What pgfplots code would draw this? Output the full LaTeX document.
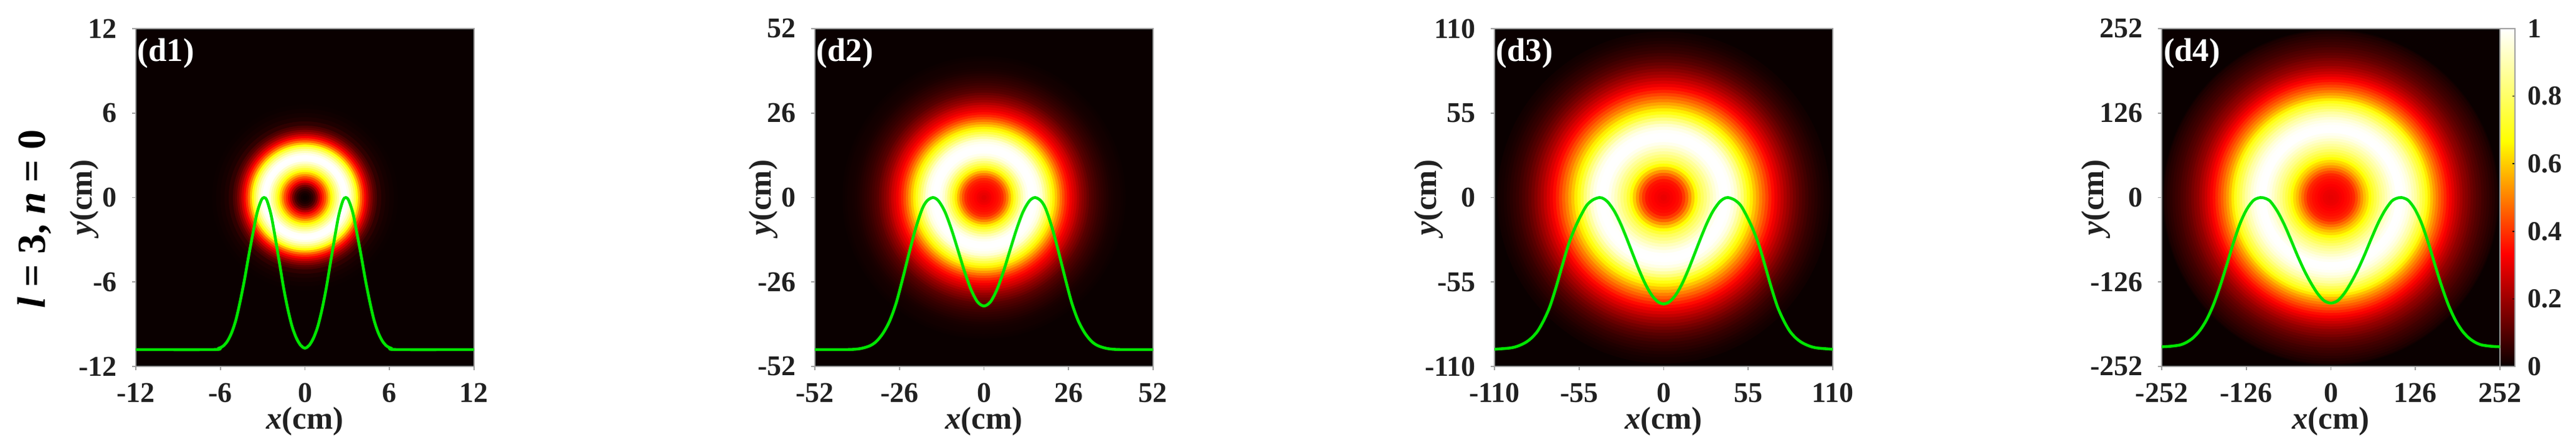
\documentclass[border=0pt]{standalone}
\usepackage{fontspec}
\setmainfont{Liberation Serif}
\usepackage{pgfplots}
\usepackage{pgfplotstable}
\pgfplotsset{compat=1.18}
\definecolor{hotzero}{rgb}{0.04,0,0}
\definecolor{curvegreen}{rgb}{0,0.9,0}
\definecolor{ticktext}{rgb}{0.13,0.13,0.13}
\pgfplotstableread{
r I
6.6 .002
6.3 .008
6.0 .015
5.7 .026
5.4 .05
5.1 .085
4.95 .11
4.8 .155
4.65 .2
4.5 .26
4.35 .32
4.2 .39
4.05 .47
3.9 .57
3.75 .68
3.6 .77
3.45 .85
3.3 .92
3.15 .97
3.0 1
2.85 1
2.7 .99
2.55 .94
2.4 .88
2.25 .82
2.1 .75
1.95 .68
1.8 .6
1.65 .52
1.5 .44
1.35 .38
1.2 .31
1.05 .23
.9 .15
.75 .09
.6 .05
.45 .025
.3 .01
.15 .003
}\ringA
\pgfplotstableread{
r I
43.5 .004
42.75 .007
42 .01
41.25 .012
40.5 .015
39.75 .019
39 .024
38.25 .032
37.5 .04
36.75 .048
36 .057
35.25 .068
34.5 .08
33.75 .092
33 .105
32.25 .127
31.5 .15
30.75 .172
30 .195
29.25 .227
28.5 .26
27.75 .287
27 .315
26.25 .35
25.5 .385
24.75 .43
24 .48
23.25 .535
22.5 .59
21.75 .645
21 .70
20.25 .76
19.5 .82
18.75 .88
18 .94
17.25 .97
16.5 .99
15.75 1
15 1
14.25 .995
13.5 .975
12.75 .94
12 .89
11.25 .83
10.5 .77
9.75 .71
9 .64
8.25 .57
7.5 .5
6.75 .44
6 .39
5.25 .365
4.5 .35
3.75 .34
3 .33
2.25 .315
1.5 .305
.75 .295
}\ringB
\pgfplotstableread{
r I
108 .01
106 .015
104 .022
102 .03
100 .04
98 .05
96 .06
94 .075
92 .09
90 .105
88 .125
86 .145
84 .17
82 .195
80 .22
78 .25
76 .28
74 .31
72 .345
70 .38
68 .42
66 .46
64 .5
62 .545
60 .59
58 .64
56 .69
54 .75
52 .82
50 .875
48 .93
46 .965
44 .99
42 1
40 1
38 .995
36 .975
34 .945
32 .91
30 .87
28 .83
26 .79
24 .74
22 .67
20 .6
18 .53
16 .46
14 .405
12 .36
10 .345
8 .335
6 .325
4 .315
2 .305
}\ringC
\pgfplotstableread{
r I
250 .012
248 .024
244 .035
240 .045
236 .055
232 .065
228 .075
224 .09
220 .1
216 .115
212 .13
208 .15
204 .17
200 .185
196 .21
192 .235
188 .26
184 .29
180 .32
176 .35
172 .385
168 .42
164 .455
160 .495
156 .535
152 .58
148 .635
144 .695
140 .74
136 .78
132 .83
128 .875
124 .905
120 .94
116 .965
112 .985
108 .995
104 1
100 1
96 .98
92 .96
88 .93
84 .9
80 .87
76 .84
72 .8
68 .76
64 .72
60 .67
56 .62
52 .58
48 .53
44 .48
40 .43
36 .385
32 .365
28 .35
24 .34
20 .33
16 .32
12 .31
8 .305
4 .3
}\ringD
\pgfplotstableread{
x y
-12 -10.8
-6.5 -10.8
-6.1 -10.7
-5.8 -10.55
-5.5 -10.2
-5.2 -9.6
-4.9 -8.7
-4.6 -7.4
-4.3 -5.9
-4.0 -4.2
-3.7 -2.6
-3.4 -1.1
-3.1 -.2
-2.9 0
-2.7 -.2
-2.4 -1.25
-2.1 -2.9
-1.8 -4.7
-1.5 -6.5
-1.2 -8.0
-.9 -9.2
-.6 -10.0
-.3 -10.5
0 -10.7
.3 -10.5
.6 -10.0
.9 -9.2
1.2 -8.0
1.5 -6.5
1.8 -4.7
2.1 -2.9
2.4 -1.25
2.7 -.2
2.9 0
3.1 -.2
3.4 -1.1
3.7 -2.6
4.0 -4.2
4.3 -5.9
4.6 -7.4
4.9 -8.7
5.2 -9.6
5.5 -10.2
5.8 -10.55
6.1 -10.7
6.5 -10.8
12 -10.8
}\lineA
\pgfplotstableread{
x y
-52 -46.8
-42 -46.8
-38 -46.5
-35 -45.6
-33 -44.2
-31 -41.7
-29 -38
-27 -32.5
-25 -25
-23 -17
-21 -9.5
-19 -3.5
-17.5 -1
-15.7 0
-14 -1
-12 -4.4
-10 -9.8
-8 -16.2
-6 -22.7
-4 -28.3
-2 -32.1
0 -33.4
2 -32.1
4 -28.3
6 -22.7
8 -16.2
10 -9.8
12 -4.4
14 -1
15.7 0
17.5 -1
19 -3.5
21 -9.5
23 -17
25 -25
27 -32.5
29 -38
31 -41.7
33 -44.2
35 -45.6
38 -46.5
42 -46.8
52 -46.8
}\lineB
\pgfplotstableread{
x y
-110 -98.8
-100 -98
-95 -96.8
-90 -94.5
-86 -91.5
-82 -87
-78 -80
-74 -71
-70 -58.5
-66 -44.5
-62 -31
-58 -20.5
-54 -12
-50 -5
-46 -1.5
-41.8 0
-39 -.8
-36 -3.3
-32 -9
-28 -17
-24 -26.7
-20 -37
-16 -47.1
-12 -56.1
-8 -63.2
-4 -67.7
0 -69.3
4 -67.7
8 -63.2
12 -56.1
16 -47.1
20 -37
24 -26.7
28 -17
32 -9
36 -3.3
39 -.8
41.8 0
46 -1.5
50 -5
54 -12
58 -20.5
62 -31
66 -44.5
70 -58.5
74 -71
78 -80
82 -87
86 -91.5
90 -94.5
95 -96.8
100 -98
110 -98.8
}\lineC
\pgfplotstableread{
x y
-252 -222.6
-240 -222
-225 -220
-215 -216
-205 -209
-195 -198
-185 -182
-175 -160
-165 -132
-155 -100
-145 -67
-135 -38
-125 -17
-115 -4
-105 0
-97 -1.5
-90 -6
-80 -20
-70 -39
-60 -62
-50 -86
-40 -108
-30 -127
-20 -143
-10 -154
0 -157.5
10 -154
20 -143
30 -127
40 -108
50 -86
60 -62
70 -39
80 -20
90 -6
97 -1.5
105 0
115 -4
125 -17
135 -38
145 -67
155 -100
165 -132
175 -160
185 -182
195 -198
205 -209
215 -216
225 -220
240 -222
252 -222.6
}\lineD
\pgfplotsset{
  colormap={hotmap}{rgb=(0.04,0,0) rgb=(1,0,0) rgb=(1,1,0) rgb=(1,1,1)},
  panel/.style={
    scale only axis,width=135.75pt,height=135.75pt,anchor=south west,
    axis background/.style={fill=hotzero},
    axis line style={draw=gray!75,line width=.6pt},
    tick style={draw=gray!75,line width=.4pt},
    tick align=outside,xtick pos=bottom,ytick pos=left,
    major tick length=1.5pt,
    point meta min=0,point meta max=1,
    tick label style={font=\fontsize{11.5}{12}\selectfont\bfseries,text=ticktext},
    xticklabel style={anchor=base,yshift=-13pt},
    yticklabel style={anchor=east,xshift=-2.5pt},
    xlabel={\textit{x}(cm)},ylabel={\textit{y}(cm)},
    every axis x label/.style={at={(axis description cs:0.5,-0.186)},anchor=base,
      font=\fontsize{12.7}{13}\selectfont\bfseries,text=ticktext},
    every axis y label/.style={at={(axis description cs:#1,0.5)},rotate=90,anchor=base,
      font=\fontsize{12.7}{13}\selectfont\bfseries,text=ticktext},
  },
  overlay panel/.style={scale only axis,width=135.75pt,height=135.75pt,anchor=south west,hide axis},
  rings/.style={scatter,only marks,mark=*,point meta=explicit,
    scatter/use mapped color={draw=mapped color,fill=mapped color},
    mark options={line width=.1pt},
    visualization depends on={\thisrow{r}*#1 \as \ringsize},
    scatter/@pre marker code/.append style={/tikz/mark size=\ringsize},
  },
  curve/.style={no marks,smooth,color=curvegreen,line width=1.15pt},
}
\tikzset{tag/.style={anchor=base west,inner sep=0pt,text=white,font=\fontsize{13.2}{14}\selectfont\bfseries}}
\begin{document}
\begin{tikzpicture}
\path[use as bounding box] (0,0) rectangle (1033.75pt,178pt);
\node[rotate=90,anchor=base,inner sep=0pt,font=\fontsize{16}{17}\selectfont\bfseries,text=black] at (18pt,90pt) {\textit{l} = 3, \textit{n} = 0};

\begin{axis}[panel=-0.129,at={(54.5pt,30.75pt)},xmin=-12,xmax=12,ymin=-12,ymax=12,
  xtick={-12,-6,0,6,12},ytick={-12,-6,0,6,12},
  xticklabels={-12,-6,0,6,12},yticklabels={-12,-6,0,6,12}]
\addplot[rings=5.656] table[x expr=0,y expr=0,meta=I]{\ringA};
\end{axis}
\begin{axis}[overlay panel,at={(54.5pt,30.75pt)},xmin=-12,xmax=12,ymin=-12,ymax=12]
\addplot[curve] table[x=x,y=y]{\lineA};
\node[tag] at (rel axis cs:0.004,0.904) {(d1)};
\end{axis}

\begin{axis}[panel=-0.129,at={(327pt,30.75pt)},xmin=-52,xmax=52,ymin=-52,ymax=52,
  xtick={-52,-26,0,26,52},ytick={-52,-26,0,26,52},
  xticklabels={-52,-26,0,26,52},yticklabels={-52,-26,0,26,52}]
\addplot[rings=1.3053] table[x expr=0,y expr=0,meta=I]{\ringB};
\end{axis}
\begin{axis}[overlay panel,at={(327pt,30.75pt)},xmin=-52,xmax=52,ymin=-52,ymax=52]
\addplot[curve] table[x=x,y=y]{\lineB};
\node[tag] at (rel axis cs:0.004,0.904) {(d2)};
\end{axis}

\begin{axis}[panel=-0.173,at={(599.75pt,30.75pt)},xmin=-110,xmax=110,ymin=-110,ymax=110,
  xtick={-110,-55,0,55,110},ytick={-110,-55,0,55,110},
  xticklabels={-110,-55,0,55,110},yticklabels={-110,-55,0,55,110}]
\addplot[rings=0.61705] table[x expr=0,y expr=0,meta=I]{\ringC};
\end{axis}
\begin{axis}[overlay panel,at={(599.75pt,30.75pt)},xmin=-110,xmax=110,ymin=-110,ymax=110]
\addplot[curve] table[x=x,y=y]{\lineC};
\node[tag] at (rel axis cs:0.004,0.904) {(d3)};
\end{axis}

\begin{axis}[panel=-0.173,at={(867.5pt,30.75pt)},xmin=-252,xmax=252,ymin=-252,ymax=252,
  xtick={-252,-126,0,126,252},ytick={-252,-126,0,126,252},
  xticklabels={-252,-126,0,126,252},yticklabels={-252,-126,0,126,252},
  colorbar,
  colorbar style={
    at={(1,1)},anchor=north west,xshift=4pt,
    width=6pt,height=135.75pt,
    ytick={0,0.2,0.4,0.6,0.8,1},
    yticklabels={0,0.2,0.4,0.6,0.8,1},
    tick align=inside,major tick length=1pt,ytick pos=right,
    tick style={draw=black,line width=.4pt},
    axis line style={draw=gray!75,line width=.4pt},
    ylabel={},xlabel={},
    yticklabel style={anchor=west,xshift=1.5pt,font=\fontsize{11}{12}\selectfont\bfseries,text=ticktext},
  }]
\addplot[rings=0.26935] table[x expr=0,y expr=0,meta=I]{\ringD};
\end{axis}
\begin{axis}[overlay panel,at={(867.5pt,30.75pt)},xmin=-252,xmax=252,ymin=-252,ymax=252]
\addplot[curve] table[x=x,y=y]{\lineD};
\node[tag] at (rel axis cs:0.004,0.904) {(d4)};
\end{axis}
\end{tikzpicture}
\end{document}
